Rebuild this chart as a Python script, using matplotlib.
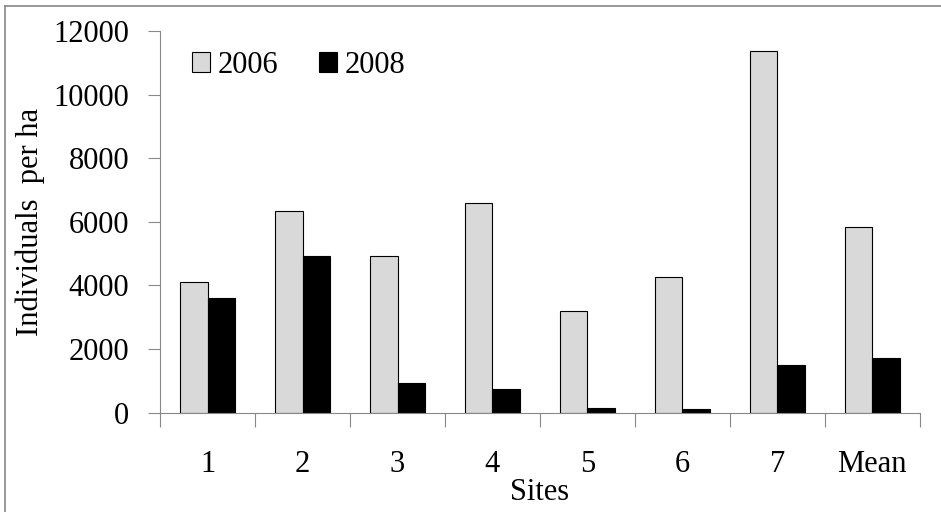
import matplotlib
matplotlib.use("Agg")
import matplotlib.pyplot as plt
import numpy as np
from matplotlib.lines import Line2D

sites = ["1", "2", "3", "4", "5", "6", "7", "Mean"]
y2006 = [4120, 6350, 4940, 6580, 3190, 4265, 11380, 5850]
y2008 = [3600, 4940, 945, 745, 150, 105, 1510, 1720]
yticks = [0, 2000, 4000, 6000, 8000, 10000, 12000]

plt.rcParams['font.family'] = ['Liberation Serif', 'DejaVu Serif']

W, H = 941, 512
FS = 22
fig = plt.figure(figsize=(W/100, H/100), dpi=100)
ax = fig.add_axes([160.3/W, 1-412.7/H, (919.5-160.3)/W, (412.7-31)/H])

x = np.arange(len(sites))
bw = 0.29
ax.bar(x - bw/2, y2006, bw, color='#d9d9d9', edgecolor='black', linewidth=0.8, label='2006')
ax.bar(x + bw/2, y2008, bw, color='black', edgecolor='black', linewidth=0.8, label='2008')

ax.set_xlim(-0.5, len(sites) - 0.5)
ax.set_ylim(0, 12000)
ax.set_yticks(yticks)
ax.set_yticklabels([str(v) for v in yticks], fontsize=FS)
ax.set_xticks(x)
ax.set_xticklabels(sites, fontsize=FS)
ax.set_xticks(np.arange(len(sites)+1) - 0.5, minor=True)
ax.tick_params(axis='x', which='major', length=0, pad=27)
ax.tick_params(axis='x', which='minor', length=10, color='#888888', width=0.8)
ax.tick_params(axis='y', length=9, color='#888888', width=0.8, pad=13.5)

for s in ['top', 'right']:
    ax.spines[s].set_visible(False)
for s in ['left', 'bottom']:
    ax.spines[s].set_color('#888888')
    ax.spines[s].set_linewidth(0.8)

ax.set_ylabel('Individuals  per ha', fontsize=FS, labelpad=6)
ax.set_xlabel('Sites', fontsize=FS, labelpad=-1)

leg = ax.legend(loc='upper left', bbox_to_anchor=(0.025, 0.98), ncol=2, frameon=False,
                fontsize=FS, handlelength=0.6, handleheight=0.6, handletextpad=0.25,
                columnspacing=1.33, borderaxespad=0)

fig.add_artist(Line2D([5/W, 5/W], [0, 1-6/H], transform=fig.transFigure,
                      color='#888888', linewidth=1.2))
fig.add_artist(Line2D([5/W, 1], [1-6/H, 1-6/H], transform=fig.transFigure,
                      color='#888888', linewidth=1.2))

fig.savefig('out.png', dpi=100)
